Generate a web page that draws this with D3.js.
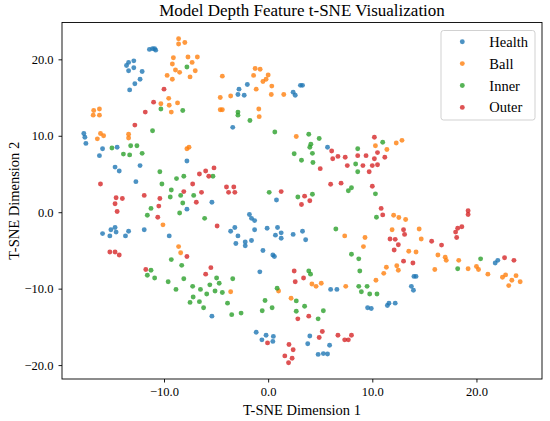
<!DOCTYPE html>
<html>
<head>
<meta charset="utf-8">
<script src="https://cdn.jsdelivr.net/npm/d3@7"></script>
<style>
  body { margin: 0; background: #fff; }
  text { font-family: "Liberation Serif", "Times New Roman", serif; }
</style>
</head>
<body>
<svg width="550" height="421"></svg>
<script>
// t-SNE coordinates per class
var health = [
    [-17.7,10.3],[-17.6,9.8],[-17.5,9.0],[-16.2,7.4],[-15.9,8.3],[-14.5,8.5],[-14.7,5.9],[-14.3,5.4],
    [-12.7,4.0],[-12.3,6.1],[-7.8,6.7],
    [-13.6,19.2],[-13.4,19.6],[-12.9,19.8],[-13.4,18.5],[-12.9,18.9],[-12.1,18.4],[-12.3,17.4],[-12.8,16.8],[-13.3,16.0],
    [-11.4,21.3],[-11.1,21.4],[-10.9,21.4],[-10.8,21.2],
    [-2.8,16.1],[-2.9,15.4],[-2.3,15.3],[-2.0,16.7],[-3.4,11.1],
    [2.4,15.7],[2.6,15.3],[3.1,16.6],[3.3,16.6],[5.7,8.5],
    [-15.9,-2.8],[-15.2,-3.1],[-15.1,-2.3],[-14.7,-2.0],[-14.6,-2.6],[-13.7,-3.1],[-13.4,-2.5],[-11.9,-2.3],[-9.5,-3.1],
    [-7.8,0.4],[-5.4,1.3],[0.8,1.6],
    [-1.8,-0.3],[-1.6,-0.8],[-1.3,-1.1],[-1.3,-2.3],[-3.6,-2.5],[-3.2,-2.0],[-2.9,-3.1],[-3.1,-4.1],[-2.2,-3.9],
    [-2.2,-4.4],[-1.6,-3.7],[-0.5,-5.0],[-0.1,-2.1],[0.45,-5.6],[0.6,-5.8],[0.7,-3.0],[0.9,-2.0],[1.25,-2.7],
    [1.25,-3.4],[2.4,-2.9],[3.3,-2.5],[3.6,-3.6],
    [-0.8,-7.8],[-5.4,-13.6],
    [-1.15,-15.7],[-0.6,-16.7],[-0.2,-16.1],[0.5,-16.25],[0.45,-16.9],[4.0,-16.2],[3.8,-17.2],[4.8,-18.6],[5.3,-18.5],
    [5.7,-18.55],[5.9,-17.4],
    [6.0,-10.1],[6.6,-10.1],[9.55,-12.5],[9.9,-12.6],[11.45,-12.2],[11.6,-11.9],[12.2,-11.9],
    [13.75,-9.7],[13.95,-10.2],[14.0,-8.4],[14.2,-8.4],[21.8,-6.65],[22.05,-6.3]
];
var ball = [
    [-8.6,22.7],[-8.6,22.0],[-8.0,22.2],[-9.1,20.2],[-9.2,19.4],[-8.9,18.6],[-8.5,18.3],[-9.7,17.9],[-9.2,17.4],
    [-7.7,20.3],[-7.3,19.6],[-6.8,20.3],[-7.5,17.7],[-7.0,18.5],
    [-10.3,14.2],[-9.55,14.9],[-9.5,14.0],[-8.7,14.3],[-9.3,13.1],
    [-16.75,13.3],[-16.2,13.5],[-16.8,12.7],[-16.2,12.7],[-16.1,10.3],[-15.8,10.0],[-16.4,9.6],
    [-13.4,10.2],[-13.4,9.7],[-7.8,8.3],[-7.6,8.5],
    [-4.4,17.8],[-4.6,15.0],[-3.6,15.2],[-4.6,13.4],[-4.4,13.4],
    [-1.25,18.8],[-0.77,18.7],[-1.4,17.9],[0.0,17.95],[-0.2,17.4],[-0.5,17.1],[0.35,16.5],[-1.15,16.1],[0.3,15.4],
    [1.5,15.4],[-0.9,13.5],[-0.86,12.5],
    [2.7,9.9],[10.3,8.7],[11.4,8.2],[12.3,9.05],[12.85,9.4],
    [-10.1,-1.65],[-8.6,-4.5],[-8.4,-5.3],[-3.6,-10.4],[1.0,-10.3],[2.2,-11.25],
    [4.2,-9.4],[4.6,-9.7],[5.1,-9.3],[7.45,-9.7],
    [7.35,-3.1],[9.15,-4.5],[9.3,-3.3],
    [10.35,-8.9],[11.1,-8.0],[11.35,-7.2],[12.35,-7.0],[12.5,-7.6],
    [12.05,-0.4],[12.55,-0.7],[13.2,-0.95],[11.9,-2.3],[14.5,-2.2],[14.7,-3.5],[13.5,-5.1],[14.2,-5.2],
    [16.0,-7.5],[16.3,-5.6],[17.0,-5.9],[17.1,-6.3],[18.3,-6.3],[19.2,-7.4],[20.0,-7.1],[20.2,-7.5],[21.1,-8.1],
    [22.5,-8.5],[22.8,-8.2],[23.1,-9.6],[23.4,-8.9],[23.8,-8.3],[24.2,-9.1]
];
var inner = [
    [-7.8,19.0],[-10.3,13.5],[-8.2,13.3],[-11.1,10.65],
    [-15.0,8.4],[-13.9,7.6],[-13.3,7.5],[-13.2,8.7],[-12.6,8.7],[-12.1,7.7],
    [-10.4,5.3],[-10.2,3.7],[-8.8,4.4],[-8.1,4.7],[-5.3,4.7],
    [-9.3,2.9],[-9.4,2.0],[-8.4,2.2],[-8.2,1.2],[-7.15,2.2],[-11.25,0.5],[-11.6,-0.4],[-8.5,-0.1],[-6.1,-0.8],
    [-2.9,13.1],[-2.9,12.7],[-1.75,12.0],[0.64,10.5],
    [3.9,10.2],[4.9,9.65],[2.5,7.65],[4.1,8.9],[4.0,8.5],[4.25,7.7],[3.2,6.8],[4.3,6.5],
    [0.1,2.6],[2.85,2.0],[4.25,2.35],[7.7,2.8],[8.0,3.2],
    [8.6,8.3],[8.4,6.3],[8.6,5.3],[11.0,9.15],[10.3,2.4],[10.4,-0.65],
    [6.5,-2.2],[8.0,-5.5],[8.7,-6.1],[8.8,-7.7],
    [8.7,-9.7],[8.95,-10.4],[9.5,-9.7],[9.75,-10.7],[10.45,-10.7],
    [20.4,-6.1],[18.2,-7.4],
    [-9.3,-6.2],[-8.3,-6.95],[-8.1,-8.7],[-9.6,-9.1],[-8.85,-10.1],[-11.6,-8.25],[-11.25,-7.6],[-10.9,-8.6],
    [-7.25,-9.7],[-6.5,-10.1],[-5.9,-10.7],[-7.2,-11.1],[-7.5,-11.8],[-6.6,-11.7],[-6.2,-12.5],[-5.6,-9.5],
    [-5.1,-10.3],[-4.95,-8.6],[-4.7,-9.3],[-4.4,-10.5],[-3.4,-8.7],[-3.9,-11.9],[-3.5,-13.4],[-2.6,-13.2],
    [-0.57,-12.9],[-0.3,-11.55],[0.38,-12.5],[0.86,-9.95],
    [2.7,-11.6],[2.7,-12.95],[3.5,-12.3],[3.9,-7.7],[4.07,-8.1],[4.8,-13.95],[5.3,-12.9]
];
var outer = [
    [-10.0,16.1],[-11.0,14.4],[-11.8,13.1],[-12.8,11.4],
    [-16.1,3.7],
    [-14.6,1.9],[-14.0,1.8],[-14.7,1.1],[-14.5,0.1],
    [-11.9,2.2],[-10.4,1.8],[-10.5,0.8],[-10.6,-0.65],
    [-15.2,-5.2],[-14.7,-5.2],[-14.3,-5.6],
    [-11.75,-7.5],
    [-7.25,3.7],[-6.6,5.0],[-6.0,5.4],[-5.7,4.7],[-5.2,5.8],[-6.4,2.6],[-6.9,1.3],[-8.1,2.7],[-4.9,-1.8],
    [-4.0,3.3],[-3.8,2.6],[-3.3,3.3],[-3.2,2.6],
    [-7.8,-5.8],[-6.0,-8.1],[-5.5,-7.25],
    [1.25,2.7],[3.5,2.1],[4.0,1.5],[3.2,1.0],
    [6.0,3.65],[7.0,3.8],
    [6.1,8.0],[6.2,7.0],[6.7,7.3],[7.4,7.2],[7.6,6.1],[5.0,5.7],
    [8.6,7.4],[9.1,6.1],[9.4,7.4],[9.7,5.3],[10.0,6.1],[10.2,9.8],[10.2,7.0],[10.5,7.8],[10.5,6.2],[11.2,7.2],[10.0,3.4],
    [10.85,0.5],[11.0,-0.35],
    [11.7,-3.5],[12.2,-3.55],[12.5,-4.25],[12.1,-4.95],[13.0,-2.3],[13.1,-2.9],[13.0,-6.4],[13.9,-6.65],
    [15.7,-3.8],[16.65,-4.3],
    [19.2,0.2],[19.2,-0.3],[18.0,-2.6],[18.1,-3.3],[18.2,-2.1],[18.6,-1.9],
    [22.7,-5.95],[23.6,-6.3],
    [2.5,-7.7],[2.6,-9.1],[3.4,-8.6],[2.85,-13.95],[3.9,-13.6],
    [-0.06,-17.1],[2.0,-17.3],[2.4,-18.0],[1.6,-18.8],[2.3,-19.1],[1.96,-19.7],
    [4.9,-16.4],[5.2,-15.6],[6.7,-16.1],[7.35,-16.7],[7.7,-16.7],[8.0,-16.1]
];

var classNames = ["Health", "Ball", "Inner", "Outer"];
var classColors = ["#1f77b4", "#ff7f0e", "#2ca02c", "#d62728"];
var xTicks = [-10, 0, 10, 20];
var yTicks = [-20, -10, 0, 10, 20];

function makeTsne(){

    var svg = d3.select("svg");
    var series = [health, ball, inner, outer];
    var all = d3.merge(series);


    // SVG area specification
    var width = +svg.attr("width");
    var height = +svg.attr("height");
    var margin = {top: 22.5, right: 8, bottom: 42, left: 62};


    // scaling, with matplotlib style 5% padding
    var padded = function(accessor){
        var ext = d3.extent(all, accessor);
        var p = (ext[1] - ext[0]) * 0.05;
        return [ext[0] - p, ext[1] + p];
    }
    var scX = d3.scaleLinear()
        .domain(padded(d => d[0]))
        .range([margin.left, width - margin.right]);
    var scY = d3.scaleLinear()
        .domain(padded(d => d[1]))
        .range([height - margin.bottom, margin.top]);


    // axes
    var fmt = d3.format(".1f");
    var gx = svg.append("g")
        .attr("transform", "translate(0," + (height - margin.bottom) + ")")
        .call(d3.axisBottom(scX).tickValues(xTicks).tickFormat(fmt).tickSize(3.5).tickPadding(5));
    var gy = svg.append("g")
        .attr("transform", "translate(" + margin.left + ",0)")
        .call(d3.axisLeft(scY).tickValues(yTicks).tickFormat(fmt).tickSize(3.5).tickPadding(5));
    [gx, gy].forEach(function(g){
        g.select(".domain").remove();
        g.attr("font-family", null).attr("font-size", 12.5);
        g.selectAll("line").attr("stroke", "#000").attr("stroke-width", 0.9);
        g.selectAll("text").attr("fill", "#000");
    });

    svg.append("rect")
        .attr("x", margin.left)
        .attr("y", margin.top)
        .attr("width", width - margin.left - margin.right)
        .attr("height", height - margin.top - margin.bottom)
        .attr("fill", "none")
        .attr("stroke", "#000")
        .attr("stroke-width", 0.9);


    // points, one group per class
    series.forEach(function(data, i){
        svg.append("g")
            .selectAll("circle")
            .data(data).enter()
            .append("circle")
            .attr("r", 2.45)
            .attr("cx", d => scX(d[0]))
            .attr("cy", d => scY(d[1]))
            .attr("fill", classColors[i])
            .attr("fill-opacity", 0.8);
    });


    // titles
    svg.append("text")
        .attr("x", (margin.left + width - margin.right) / 2)
        .attr("y", 16)
        .attr("text-anchor", "middle")
        .attr("font-size", 17)
        .text("Model Depth Feature t-SNE Visualization");
    svg.append("text")
        .attr("x", (margin.left + width - margin.right) / 2)
        .attr("y", 415)
        .attr("text-anchor", "middle")
        .attr("font-size", 14.5)
        .text("T-SNE Dimension 1");
    svg.append("text")
        .attr("transform", "translate(19," + (margin.top + height - margin.bottom) / 2 + ") rotate(-90)")
        .attr("text-anchor", "middle")
        .attr("font-size", 14.5)
        .text("T-SNE Dimension 2");


    // legend
    var lg = svg.append("g").attr("transform", "translate(441,30.5)");
    lg.append("rect")
        .attr("width", 94)
        .attr("height", 89.5)
        .attr("rx", 2.5)
        .attr("fill", "#fff")
        .attr("fill-opacity", 0.8)
        .attr("stroke", "#ccc")
        .attr("stroke-width", 0.9);
    var item = lg.selectAll("g.item")
        .data(classNames).enter()
        .append("g")
        .attr("class", "item")
        .attr("transform", (d, i) => "translate(0," + (11.2 + i * 21.9) + ")");
    item.append("circle")
        .attr("cx", 21.3)
        .attr("r", 2.45)
        .attr("fill", (d, i) => classColors[i])
        .attr("fill-opacity", 0.8);
    item.append("text")
        .attr("x", 48.3)
        .attr("y", 5)
        .attr("font-size", 14.5)
        .text(d => d);
}

makeTsne();
</script>
</body>
</html>
